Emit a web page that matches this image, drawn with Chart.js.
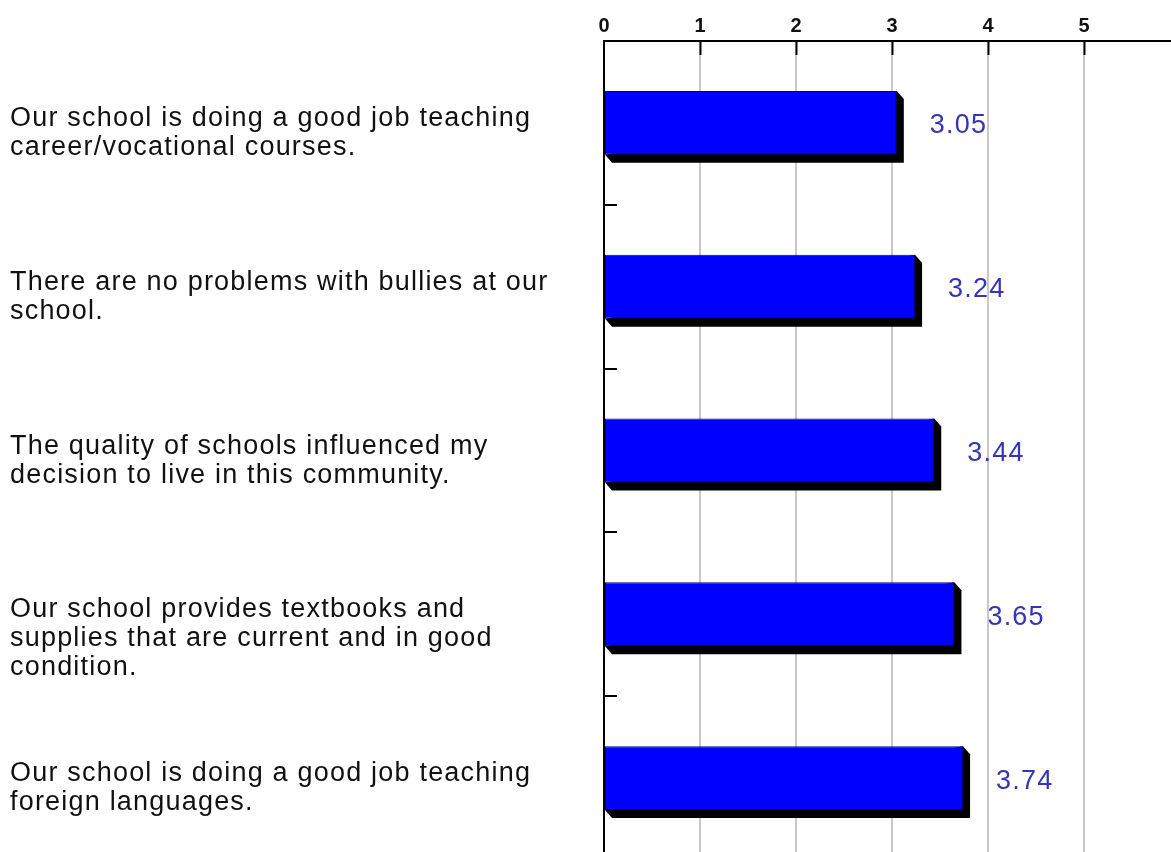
<!DOCTYPE html>
<html>
<head>
<meta charset="utf-8">
<script src="https://cdn.jsdelivr.net/npm/chart.js@4/dist/chart.umd.min.js"></script>
<style>
  html, body { margin: 0; padding: 0; background: #fff; overflow: hidden; }
  #wrap { width: 1171px; height: 852px; overflow: hidden; }
</style>
</head>
<body>
<div id="wrap"><canvas id="myChart" width="1171" height="860"></canvas></div>
<script>
const categories = [
    ['Our school is doing a good job teaching', 'career/vocational courses.'],
    ['There are no problems with bullies at our', 'school.'],
    ['The quality of schools influenced my', 'decision to live in this community.'],
    ['Our school provides textbooks and', 'supplies that are current and in good', 'condition.'],
    ['Our school is doing a good job teaching', 'foreign languages.']
];
const values = [3.05, 3.24, 3.44, 3.65, 3.74];
const xTicks = [0, 1, 2, 3, 4, 5];
const xMax = 5.906;

// black 3d "depth" behind each bar, taken from the bar elements
const shadowPlugin = {
    id: 'shadow',
    beforeDatasetsDraw(chart) {
        const ctx = chart.ctx;
        const dx = 7, dy = 8;
        ctx.save();
        ctx.fillStyle = '#000';
        chart.getDatasetMeta(0).data.forEach(bar => {
            const top = bar.y - bar.height / 2;
            const bottom = bar.y + bar.height / 2;
            ctx.beginPath();
            ctx.moveTo(bar.x, top);
            ctx.lineTo(bar.x + dx, top + dy);
            ctx.lineTo(bar.x + dx, bottom + dy);
            ctx.lineTo(bar.base + dx, bottom + dy);
            ctx.lineTo(bar.base, bottom);
            ctx.closePath();
            ctx.fill();
        });
        ctx.restore();
    }
};

// labels on the left, value labels, small inner tick marks
const textPlugin = {
    id: 'texts',
    afterDraw(chart) {
        const ctx = chart.ctx;
        const x = chart.scales.x;
        const y = chart.scales.y;
        const area = chart.chartArea;
        ctx.save();

        ctx.strokeStyle = '#000';
        ctx.lineWidth = 2;
        xTicks.forEach(t => {
            if (t === 0) return;
            const px = Math.round(x.getPixelForValue(t)) + 0.5;
            ctx.beginPath();
            ctx.moveTo(px, area.top);
            ctx.lineTo(px, area.top + 14);
            ctx.stroke();
        });
        for (let i = 1; i < categories.length; i++) {
            const py = Math.round((y.getPixelForValue(i - 1) + y.getPixelForValue(i)) / 2);
            ctx.beginPath();
            ctx.moveTo(area.left, py);
            ctx.lineTo(area.left + 13, py);
            ctx.stroke();
        }

        ctx.font = '27px "Liberation Sans", Arial, sans-serif';
        ctx.letterSpacing = '1.2px';
        ctx.textAlign = 'left';
        ctx.textBaseline = 'alphabetic';
        ctx.fillStyle = '#111';
        categories.forEach((lines, i) => {
            const cy = y.getPixelForValue(i);
            lines.forEach((line, j) => {
                ctx.fillText(line, 10, cy + 3 + j * 29);
            });
        });

        ctx.fillStyle = '#3535b5';
        ctx.textBaseline = 'middle';
        values.forEach((v, i) => {
            ctx.fillText(v.toFixed(2), x.getPixelForValue(v) + 33, y.getPixelForValue(i) + 3);
        });
        ctx.restore();
    }
};

const ctx = document.getElementById('myChart').getContext('2d');
new Chart(ctx, {
    type: 'bar',
    data: {
        labels: categories,
        datasets: [
            {
                data: values,
                backgroundColor: '#0000ff',
                borderColor: '#000070',
                borderWidth: 1,
                borderSkipped: false,
                barPercentage: 1,
                categoryPercentage: 0.39
            }
        ]
    },
    options: {
        indexAxis: 'y',
        responsive: false,
        animation: false,
        layout: { padding: 0 },
        plugins: {
            legend: { display: false },
            tooltip: { enabled: false }
        },
        scales: {
            x: {
                position: 'top',
                min: 0,
                max: xMax,
                afterBuildTicks: scale => {
                    scale.ticks = xTicks.map(v => ({ value: v }));
                },
                afterFit: scale => { scale.height = 41; },
                ticks: {
                    color: '#111',
                    font: { family: '"Liberation Sans", Arial, sans-serif', size: 20, weight: 'bold' },
                    padding: 3,
                    maxRotation: 0
                },
                grid: {
                    drawTicks: false,
                    lineWidth: 2,
                    color: c => (c.tick && c.tick.value === 0) ? 'rgba(0,0,0,0)' : '#c8c8c8'
                },
                border: { display: true, color: '#000', width: 2 }
            },
            y: {
                position: 'left',
                z: 1,
                afterFit: scale => { scale.width = 604; },
                ticks: { display: false },
                grid: { display: false },
                border: { display: true, color: '#000', width: 2 }
            }
        }
    },
    plugins: [shadowPlugin, textPlugin]
});
</script>
</body>
</html>
